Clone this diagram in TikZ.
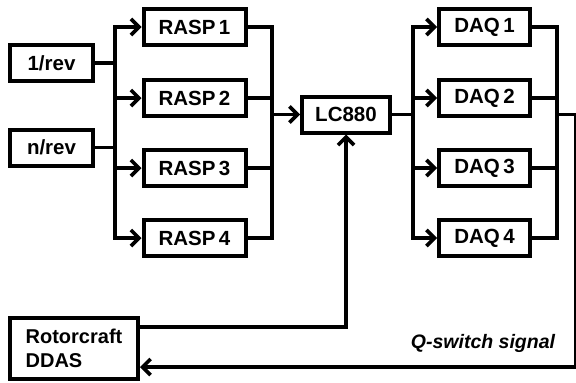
\documentclass[tikz,border=0pt]{standalone}
\usepackage{fontspec}
\setmainfont{Liberation Sans}
\usetikzlibrary{arrows.meta}
\begin{document}
\begin{tikzpicture}[x=1pt,y=-1pt,
  box/.style={draw, line width=4pt, minimum height=36pt, inner sep=0pt,
    font=\bfseries\fontsize{20.5}{24}\selectfont},
  conn/.style={line width=3.6pt, line join=miter},
  arr/.style={conn, -{Straight Barb[length=8pt,width=16pt]}},
  darr/.style={conn, {Straight Barb[length=8pt,width=16pt]}-{Straight Barb[length=8pt,width=16pt]}}]
\useasboundingbox (0,0) rectangle (576,383);
% input boxes
\node[box, minimum width=83pt] (one) at (51.5,63) {1/rev};
\node[box, minimum width=83pt] (nrev) at (51.5,147.5) {n/rev};
% RASP boxes
\node[box, minimum width=102pt] (r1) at (194.5,27) {RASP\,1};
\node[box, minimum width=102pt] (r2) at (194.5,98) {RASP\,2};
\node[box, minimum width=102pt] (r3) at (194.5,168) {RASP\,3};
\node[box, minimum width=102pt] (r4) at (194.5,238) {RASP\,4};
% LC880
\node[box, minimum width=88pt] (lc) at (346,114.5) {LC880};
% DAQ boxes
\node[box, minimum width=91pt] (d1) at (484.5,27) {DAQ\,1};
\node[box, minimum width=91pt] (d2) at (484.5,98) {DAQ\,2};
\node[box, minimum width=91pt] (d3) at (484.5,168) {DAQ\,3};
\node[box, minimum width=91pt] (d4) at (484.5,238) {DAQ\,4};
% Rotorcraft DDAS
\node[box, minimum width=128pt, minimum height=61pt, align=left,
  font=\bfseries\fontsize{20}{24}\selectfont] (rc) at (74,348.5) {Rotorcraft\\DDAS};
% label
\node[font=\bfseries\itshape\fontsize{19.5}{23}\selectfont, anchor=base, inner sep=0pt]
  (qs) at (483,348) {Q-switch signal};
% bus coordinates
\coordinate (lbx) at (115,0);
\coordinate (rbx) at (272,0);
\coordinate (dlx) at (413,0);
\coordinate (drx) at (557,0);
\coordinate (qtop) at (575.5,114.5);
\coordinate (qbot) at (575.5,367);
\coordinate (rcy) at (0,327);
% inputs to left bus
\draw[conn] (one.east) -- (lbx |- one.east);
\draw[conn] (nrev.east) -- (lbx |- nrev.east);
% left bus with arrows to RASP
\draw[darr] (r1.west) -- (lbx |- r1.west) -- (lbx |- r4.west) -- (r4.west);
\draw[arr] (lbx |- r2.west) -- (r2.west);
\draw[arr] (lbx |- r3.west) -- (r3.west);
% RASP right bus
\draw[conn] (r1.east) -- (rbx |- r1.east) -- (rbx |- r4.east) -- (r4.east);
\draw[conn] (r2.east) -- (rbx |- r2.east);
\draw[conn] (r3.east) -- (rbx |- r3.east);
\draw[arr] (rbx |- lc.west) -- (lc.west);
% LC880 to DAQ bus
\draw[conn] (lc.east) -- (dlx |- lc.east);
\draw[darr] (d1.west) -- (dlx |- d1.west) -- (dlx |- d4.west) -- (d4.west);
\draw[arr] (dlx |- d2.west) -- (d2.west);
\draw[arr] (dlx |- d3.west) -- (d3.west);
% DAQ right bus
\draw[conn] (d1.east) -- (drx |- d1.east) -- (drx |- d4.east) -- (d4.east);
\draw[conn] (d2.east) -- (drx |- d2.east);
\draw[conn] (d3.east) -- (drx |- d3.east);
% Q-switch feedback
\draw[arr] (drx |- qtop) -- (qtop) -- (qbot) -- (rc.east |- qbot);
% Rotorcraft to LC880
\draw[arr] (rc.east |- rcy) -- (lc.south |- rcy) -- (lc.south);
\end{tikzpicture}
\end{document}
